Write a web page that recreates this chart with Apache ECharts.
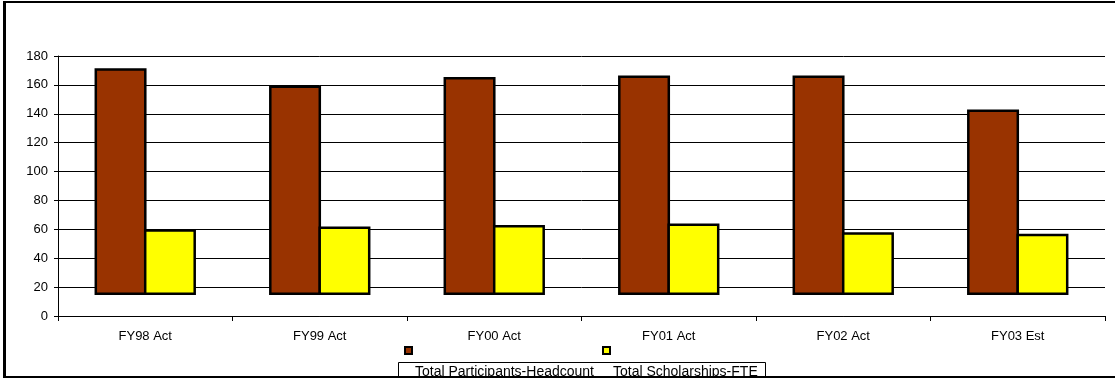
<!DOCTYPE html>
<html>
<head>
<meta charset="utf-8">
<script src="https://cdn.jsdelivr.net/npm/echarts@6/dist/echarts.min.js"></script>
<style>
  html, body { margin: 0; padding: 0; background: #ffffff; }
  #chart { width: 1115px; height: 380px; }
</style>
</head>
<body>
<div id="chart"></div>
<script>
// Fiscal years along the category axis
const categories = ['FY98 Act', 'FY99 Act', 'FY00 Act', 'FY01 Act', 'FY02 Act', 'FY03 Est'];
// Series values (top of each bar)
const participants = [171.5, 159.5, 165.5, 166.5, 166.5, 143];
const scholarships = [60, 62, 63, 64, 58, 57];
// Level the bars rise from
const barFloor = 14.5;
// Value axis ticks
const yTicks = [0, 20, 40, 60, 80, 100, 120, 140, 160, 180];
const seriesNames = ['Total Participants-Headcount', 'Total Scholarships-FTE'];
const seriesColors = ['#993300', '#FFFF00'];

const FONT = '"Liberation Sans", Arial, sans-serif';
const chart = echarts.init(document.getElementById('chart'), null, { renderer: 'canvas' });

// neighbouring bars overlap by their border so they share one edge line
const BAR_W = 52;
const BAR_GAP = '-5%';
function baseSeries(stack) {
  return {
    type: 'bar', stack: stack, silent: true, barWidth: BAR_W, barGap: BAR_GAP,
    itemStyle: { color: 'transparent', borderWidth: 0 },
    data: categories.map(() => barFloor)
  };
}
function valueSeries(name, stack, values, color) {
  return {
    name: name, type: 'bar', stack: stack, barWidth: BAR_W, barGap: BAR_GAP,
    itemStyle: { color: color, borderColor: '#000', borderWidth: 2.5 },
    data: values.map(v => v - barFloor)
  };
}

// Legend drawn as graphics: marker row above a framed text row
const legendItems = [];
const markerX = [405, 603];
const textX = [415, 613];
seriesNames.forEach((n, i) => {
  legendItems.push({
    type: 'rect', z: 10,
    shape: { x: markerX[i], y: 347, width: 7, height: 7 },
    style: { fill: seriesColors[i], stroke: '#000', lineWidth: 2 }
  });
  legendItems.push({
    type: 'text', z: 10, left: textX[i], top: 365,
    style: { text: n, font: '14px ' + FONT, fill: '#000' }
  });
});

chart.setOption({
  animation: false,
  backgroundColor: '#ffffff',
  grid: { left: 58, right: 10, top: 56, bottom: 64, containLabel: false },
  xAxis: {
    type: 'category', data: categories,
    axisLine: { lineStyle: { color: '#000', width: 1 } },
    axisTick: { show: true, length: 5, interval: 0, alignWithLabel: false, lineStyle: { color: '#000' } },
    axisLabel: { color: '#000', fontFamily: FONT, fontSize: 13, margin: 14, interval: 0 },
    splitLine: { show: false }
  },
  yAxis: {
    type: 'value', min: yTicks[0], max: yTicks[yTicks.length - 1], interval: yTicks[1] - yTicks[0],
    axisLine: { show: true, lineStyle: { color: '#000', width: 1 } },
    axisTick: { show: true, length: 4, lineStyle: { color: '#000' } },
    axisLabel: { color: '#000', fontFamily: FONT, fontSize: 13, margin: 10 },
    splitLine: { show: true, lineStyle: { color: '#000', width: 1 } }
  },
  series: [
    baseSeries('p'),
    valueSeries(seriesNames[0], 'p', participants, seriesColors[0]),
    baseSeries('s'),
    valueSeries(seriesNames[1], 's', scholarships, seriesColors[1])
  ],
  graphic: [
    // legend frame
    { type: 'rect', z: 9, shape: { x: 398.5, y: 362.5, width: 367, height: 30 },
      style: { fill: '#fff', stroke: '#000', lineWidth: 1 } },
    ...legendItems,
    // outer chart frame
    { type: 'rect', z: 20, shape: { x: 0, y: 378, width: 1115, height: 2 }, style: { fill: '#fff' } },
    { type: 'rect', z: 21, shape: { x: 3, y: 376, width: 1112, height: 2 }, style: { fill: '#000' } },
    { type: 'rect', z: 21, shape: { x: 3, y: 1, width: 1112, height: 2 }, style: { fill: '#000' } },
    { type: 'rect', z: 21, shape: { x: 3, y: 1, width: 3, height: 377 }, style: { fill: '#000' } }
  ]
});
</script>
</body>
</html>
